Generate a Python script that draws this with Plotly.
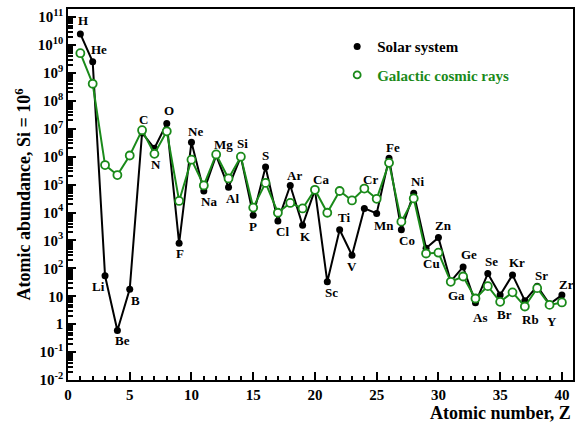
import numpy as np
import plotly.graph_objects as go

# atomic number and element symbols
z = list(range(1, 41))
symbols = ['H', 'He', 'Li', 'Be', 'B', 'C', 'N', 'O', 'F', 'Ne',
           'Na', 'Mg', 'Al', 'Si', 'P', 'S', 'Cl', 'Ar', 'K', 'Ca',
           'Sc', 'Ti', 'V', 'Cr', 'Mn', 'Fe', 'Co', 'Ni', 'Cu', 'Zn',
           'Ga', 'Ge', 'As', 'Se', 'Br', 'Kr', 'Rb', 'Sr', 'Y', 'Zr']

# abundances relative to Si = 1e6
solar = [2.5e10, 2.5e9, 54, 0.59, 18, 7.1e6, 2.0e6, 1.55e7, 790, 3.3e6,
         5.9e4, 1.1e6, 8.1e4, 1.0e6, 7.9e3, 4.3e5, 5.0e3, 9.3e4, 3.5e3, 6.5e4,
         33, 2.4e3, 295, 1.4e4, 9.3e3, 8.7e5, 2.4e3, 4.9e4, 525, 1.26e3,
         34, 112, 5.8, 65, 11, 58, 6.9, 23, 5.2, 11]
gcr = [5.1e9, 4.1e8, 5.0e5, 2.2e5, 1.1e6, 8.9e6, 1.26e6, 8.1e6, 2.6e4, 7.8e5,
       9.3e4, 1.2e6, 1.66e5, 1.0e6, 1.5e4, 1.15e5, 9.8e3, 2.2e4, 1.4e4, 6.5e4,
       9.8e3, 5.9e4, 2.7e4, 7.2e4, 3.1e4, 6.0e5, 4.7e3, 3.2e4, 340, 363,
       33, 51, 8.3, 23, 6.3, 13.8, 4.3, 19.5, 4.9, 6.0]

ytick_exp = list(range(-2, 12))

GREEN = '#1a8a1a'
FONT = 'Liberation Serif'
YRANGE = [-2, 11.29]

fig = go.Figure()
fig.add_trace(go.Scatter(
    x=z, y=solar, mode='lines+markers', showlegend=False,
    line=dict(color='black', width=2),
    marker=dict(color='black', size=7)))
fig.add_trace(go.Scatter(
    x=z, y=gcr, mode='lines+markers', showlegend=False,
    line=dict(color=GREEN, width=2),
    marker=dict(color='white', size=8, symbol='circle',
                line=dict(color=GREEN, width=1.8))))

# legend-only entries (symbol without line, as in the original)
fig.add_trace(go.Scatter(
    x=[None], y=[None], mode='markers', name='Solar system', legendgroup='a',
    marker=dict(color='black', size=7)))
fig.add_trace(go.Scatter(
    x=[None], y=[None], mode='markers', legendgroup='b',
    name='<span style="color:%s">Galactic cosmic rays</span>' % GREEN,
    marker=dict(color='white', size=7, line=dict(color=GREEN, width=1.8))))

# invisible trace so the overlay axis with the long decade ticks is drawn
fig.add_trace(go.Scatter(
    x=[z[0]], y=[solar[0]], yaxis='y2', mode='markers', showlegend=False,
    hoverinfo='skip', marker=dict(opacity=0)))

# label offsets (px) relative to the solar-system point
offs = {'H': (3, 13), 'He': (6, 12), 'Li': (-7, -11), 'Be': (5, -10),
        'B': (6, -11), 'C': (1, 13), 'N': (2, -16), 'O': (2, 13),
        'F': (1, -10), 'Ne': (4, 11), 'Na': (5, -11), 'Mg': (7, 11),
        'Al': (4, -11), 'Si': (2, 13), 'P': (0, -11), 'S': (0, 11),
        'Cl': (5, -11), 'Ar': (4, 10), 'K': (3, -11), 'Ca': (6, 10),
        'Sc': (4, -11), 'Ti': (4, 12), 'V': (0, -11), 'Cr': (6, 29),
        'Mn': (7, -12), 'Fe': (4, 11), 'Co': (6, -11), 'Ni': (4, 12),
        'Cu': (5, -15), 'Zn': (5, 12), 'Ga': (6, -14), 'Ge': (6, 12),
        'As': (5, -15), 'Se': (4, 12), 'Br': (4, -19), 'Kr': (4, 12),
        'Rb': (6, -19), 'Sr': (4, 11), 'Y': (2, -17), 'Zr': (5, 11)}

for zi, s, v in zip(z, symbols, solar):
    dx, dy = offs[s]
    fig.add_annotation(x=zi, y=np.log10(v), text=s, showarrow=False,
                       xshift=dx, yshift=dy,
                       font=dict(family=FONT, size=13, color='black', weight='bold'))

fig.add_annotation(x=1, y=-0.088, xref='paper', yref='paper', xanchor='right',
                   yanchor='middle', text='Atomic number, Z', showarrow=False,
                   font=dict(family=FONT, size=18, color='black', weight='bold'))

# every tick position (1..9 x 10^n); labels only on the decades
ytick_vals = []
ytick_text = []
for e in ytick_exp:
    for d in range(1, 10):
        if e == ytick_exp[-1] and d > 1:
            break
        ytick_vals.append(d * 10.0 ** e)
        if d > 1:
            ytick_text.append('')
        elif e == 0:
            ytick_text.append('1')
        elif e == 1:
            ytick_text.append('10')
        else:
            ytick_text.append('10<sup>%d</sup>' % e)

fig.update_layout(
    width=582, height=435,
    margin=dict(l=68, r=7, t=7, b=55),
    plot_bgcolor='white', paper_bgcolor='white',
    font=dict(family=FONT, size=15, color='black', weight='bold'),
    showlegend=True,
    legend=dict(x=0.533, y=0.943, xanchor='left', yanchor='top',
                bgcolor='rgba(0,0,0,0)', tracegroupgap=6, itemwidth=30,
                font=dict(family=FONT, size=15, weight='bold')),
    xaxis=dict(range=[0, 40.9], showgrid=False, zeroline=False,
               showline=True, linecolor='black', linewidth=1.5, mirror=True,
               ticks='inside', ticklen=8, tickwidth=1.5, tickcolor='black',
               tickvals=[0, 5, 10, 15, 20, 25, 30, 35, 40],
               minor=dict(ticks='inside', ticklen=4, tickwidth=1.5,
                          tickcolor='black', dtick=1, showgrid=False),
               tickfont=dict(family=FONT, size=15, weight='bold')),
    yaxis=dict(type='log', range=YRANGE, showgrid=False, zeroline=False,
               showline=True, linecolor='black', linewidth=1.5, mirror=True,
               ticks='inside', ticklen=5, tickwidth=1.5, tickcolor='black',
               tickvals=ytick_vals, ticktext=ytick_text,
               tickfont=dict(family=FONT, size=15, weight='bold'),
               title=dict(text='Atomic abundance, Si = 10<sup>6</sup>',
                          standoff=2,
                          font=dict(family=FONT, size=18, weight='bold'))),
    yaxis2=dict(type='log', range=YRANGE, overlaying='y', side='left',
                anchor='x', showgrid=False, zeroline=False, showline=False,
                ticks='inside', ticklen=8, tickwidth=1.5, tickcolor='black',
                tickvals=[10.0 ** e for e in ytick_exp],
                showticklabels=False),
)

fig.write_html("out.html", config={'displayModeBar': False},
               post_script="document.body.style.margin='0';")
